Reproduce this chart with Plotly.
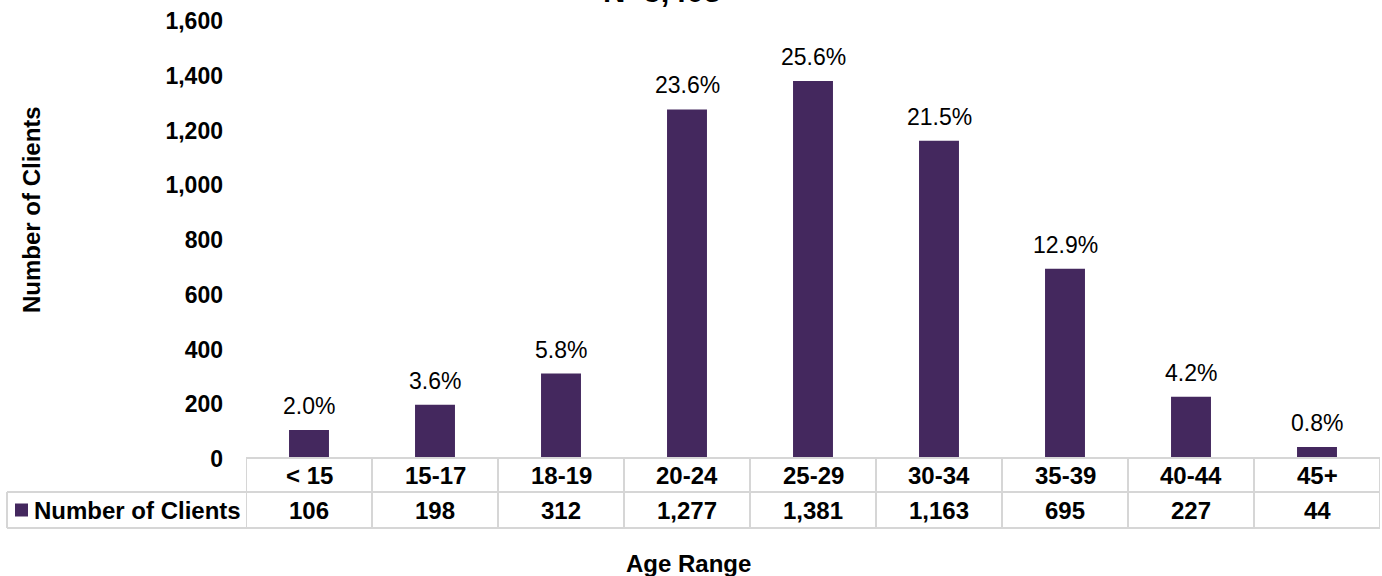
import plotly.graph_objects as go

# Client counts by age range
age_ranges = ["< 15", "15-17", "18-19", "20-24", "25-29", "30-34", "35-39", "40-44", "45+"]
clients = [106, 198, 312, 1277, 1381, 1163, 695, 227, 44]
pct_labels = ["2.0%", "3.6%", "5.8%", "23.6%", "25.6%", "21.5%", "12.9%", "4.2%", "0.8%"]
y_ticks = [0, 200, 400, 600, 800, 1000, 1200, 1400, 1600]

BAR = "#44285E"
GRID = "#d6d6d6"
FONT = "Liberation Sans, Arial, sans-serif"

W, H = 1382, 576
L, R, T, B = 246, 2, 21, 117
PW, PH = W - L - R, H - T - B


def px_x(p):
    return (p - L) / PW


def px_y(p):
    return (H - B - p) / PH


def txt(size=24, **kw):
    base = dict(showarrow=False, xanchor="center", yanchor="middle",
                font=dict(family=FONT, size=size, color="#000"))
    base.update(kw)
    return base


fig = go.Figure()
fig.add_trace(go.Bar(
    x=age_ranges, y=clients, marker=dict(color=BAR, line=dict(width=0)),
    name="Number of Clients", showlegend=False, hoverinfo="x+y",
))

ann = []
# percentage labels above bars
for cat, v, t in zip(age_ranges, clients, pct_labels):
    ann.append(txt(size=23, x=cat, y=v, xref="x", yref="y", text=t,
                   yanchor="bottom", yshift=9))

# data table under the axis
y_head, y_val = px_y(475), px_y(510)
for cat, v in zip(age_ranges, clients):
    ann.append(txt(x=cat, y=y_head, xref="x", yref="paper", text=f"<b>{cat}</b>"))
    ann.append(txt(x=cat, y=y_val, xref="x", yref="paper", text=f"<b>{v:,}</b>"))
ann.append(txt(x=px_x(32), y=y_val, xref="paper", yref="paper", xanchor="left",
               text="<b>Number of Clients</b>"))

# axis titles and heading
ann.append(txt(x=px_x(32), y=px_y(210), xref="paper", yref="paper", textangle=-90,
               text="<b>Number of Clients</b>"))
ann.append(txt(x=px_x(688), y=px_y(563), xref="paper", yref="paper",
               text="<b>Age Range</b>"))
ann.append(txt(size=31, x=px_x(662), y=px_y(11), xref="paper", yref="paper",
               yanchor="bottom", text="<b>N=5,403</b>"))

shapes = []
line = dict(color=GRID, width=2)
n = len(age_ranges)
# horizontal rules
shapes.append(dict(type="line", xref="paper", yref="paper", x0=0, x1=1,
                   y0=px_y(458), y1=px_y(458), line=line))
for py in (492, 528):
    shapes.append(dict(type="line", xref="paper", yref="paper", x0=px_x(7), x1=1,
                       y0=px_y(py), y1=px_y(py), line=line))
# vertical rules between columns
for i in range(n + 1):
    shapes.append(dict(type="line", xref="x", yref="paper", x0=i - 0.5, x1=i - 0.5,
                       y0=px_y(458), y1=px_y(528), line=line))
shapes.append(dict(type="line", xref="paper", yref="paper", x0=px_x(7), x1=px_x(7),
                   y0=px_y(492), y1=px_y(528), line=line))
# legend key
shapes.append(dict(type="rect", xref="paper", yref="paper", x0=px_x(15), x1=px_x(28),
                   y0=px_y(516.5), y1=px_y(503.5), fillcolor=BAR, line=dict(width=0)))

fig.update_layout(
    width=W, height=H,
    margin=dict(l=L, r=R, t=T, b=B),
    plot_bgcolor="white", paper_bgcolor="white",
    bargap=0.683,
    annotations=ann, shapes=shapes,
    font=dict(family=FONT, color="#000"),
    xaxis=dict(showticklabels=False, showgrid=False, zeroline=False, showline=False,
               ticks="", range=[-0.5, n - 0.5]),
    yaxis=dict(range=[0, 1600], tickvals=y_ticks, ticktext=[f"<b>{t:,}</b>" for t in y_ticks],
               showgrid=False, zeroline=False, showline=False, ticks="",
               ticklabelstandoff=22, tickfont=dict(family=FONT, size=23, color="#000")),
)

fig.write_html("out.html")
